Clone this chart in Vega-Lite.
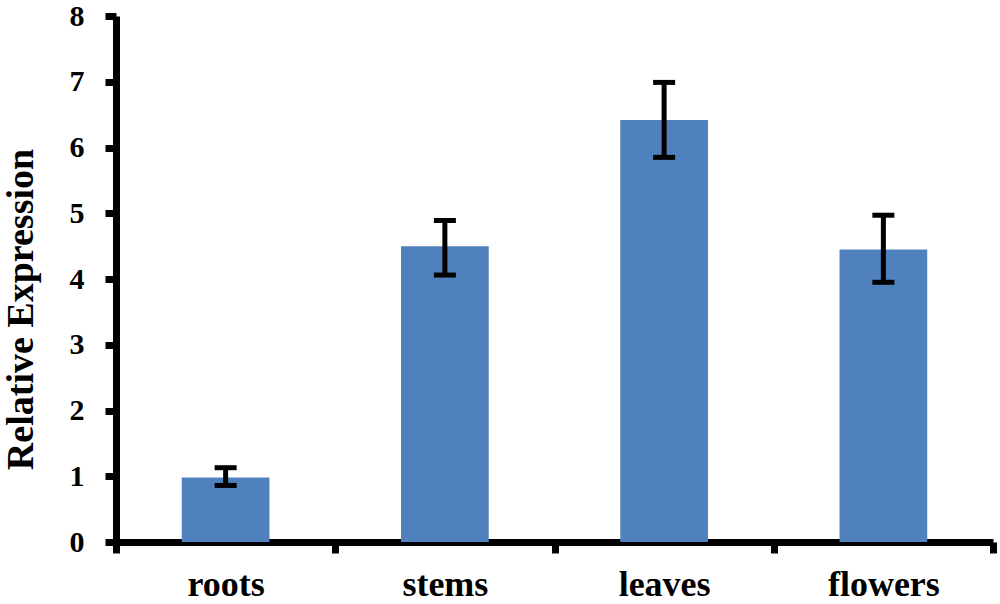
{
  "$schema": "https://vega.github.io/schema/vega-lite/v6.json",
  "background": "white",
  "autosize": {"type": "none"},
  "padding": {"left": 116, "top": 16, "right": 7, "bottom": 62},
  "width": 877,
  "height": 526,
  "data": {
    "values": [
      {"tissue": "roots", "value": 0.98, "lo": 0.86, "hi": 1.13},
      {"tissue": "stems", "value": 4.5, "lo": 4.06, "hi": 4.89},
      {"tissue": "leaves", "value": 6.42, "lo": 5.85, "hi": 6.99},
      {"tissue": "flowers", "value": 4.45, "lo": 3.95, "hi": 4.97}
    ]
  },
  "encoding": {
    "x": {
      "field": "tissue",
      "type": "nominal",
      "sort": null,
      "title": null,
      "scale": {"paddingInner": 0, "paddingOuter": 0},
      "axis": {
        "labelAngle": 0,
        "labelFont": "Liberation Serif",
        "labelFontWeight": "bold",
        "labelFontSize": 36,
        "labelColor": "black",
        "labelPadding": 14,
        "domainColor": "black",
        "domainWidth": 7,
        "tickColor": "black",
        "tickWidth": 7,
        "tickSize": 11,
        "tickBand": "extent",
        "grid": false
      }
    }
  },
  "layer": [
    {
      "mark": {"type": "bar", "color": "#4F81BD", "width": {"band": 0.4}},
      "encoding": {
        "y": {
          "field": "value",
          "type": "quantitative",
          "title": "Relative Expression",
          "scale": {"domain": [0, 8], "nice": false},
          "axis": {
            "values": [0, 1, 2, 3, 4, 5, 6, 7, 8],
            "format": "d",
            "grid": false,
            "labelFont": "Liberation Serif",
            "labelFontWeight": "bold",
            "labelFontSize": 30,
            "labelColor": "black",
            "labelPadding": 21,
            "domainColor": "black",
            "domainWidth": 7,
            "tickColor": "black",
            "tickWidth": 7,
            "tickSize": 11,
            "titleFont": "Liberation Serif",
            "titleFontWeight": "bold",
            "titleFontSize": 38,
            "titleColor": "black",
            "titlePadding": 29,
            "titleY": 293
          }
        }
      }
    },
    {
      "mark": {"type": "rule", "color": "black", "strokeWidth": 5},
      "encoding": {
        "y": {"field": "lo", "type": "quantitative"},
        "y2": {"field": "hi"}
      }
    },
    {
      "mark": {"type": "tick", "color": "black", "thickness": 5, "size": 22, "opacity": 1},
      "encoding": {
        "y": {"field": "lo", "type": "quantitative"}
      }
    },
    {
      "mark": {"type": "tick", "color": "black", "thickness": 5, "size": 22, "opacity": 1},
      "encoding": {
        "y": {"field": "hi", "type": "quantitative"}
      }
    }
  ],
  "config": {"view": {"stroke": null}}
}
